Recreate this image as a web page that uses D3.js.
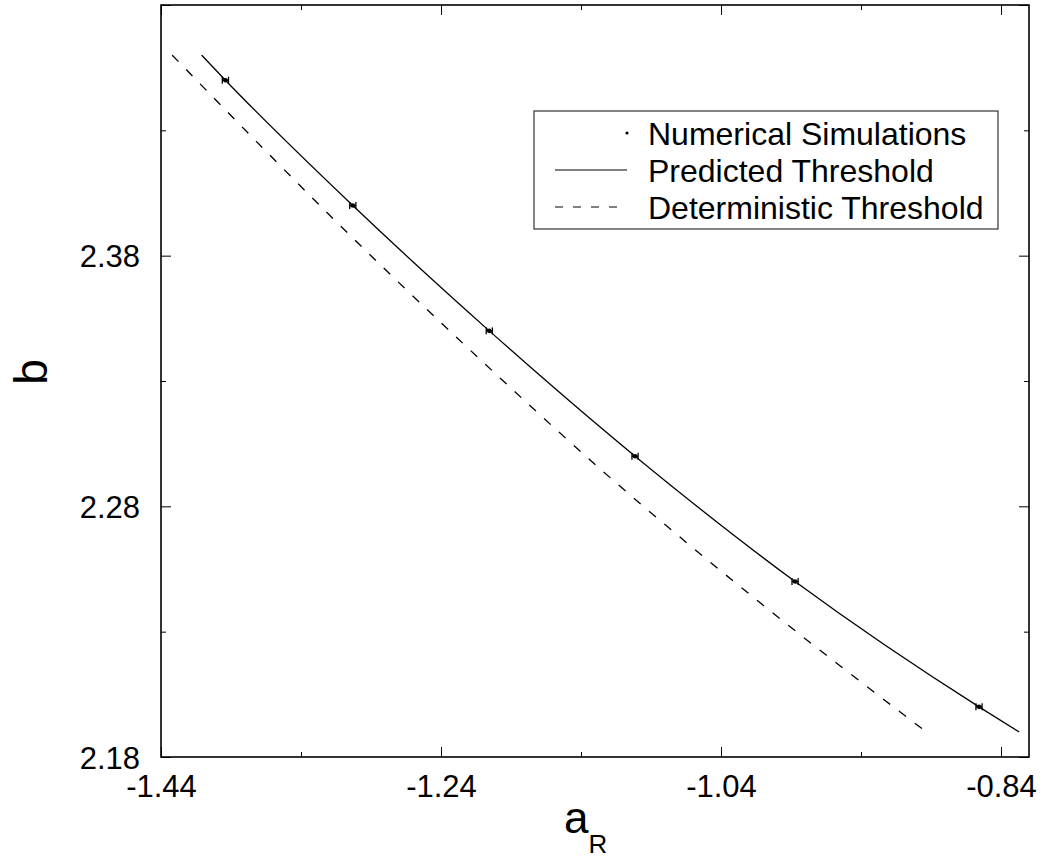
<!DOCTYPE html>
<html>
<head>
<meta charset="utf-8">
<script src="https://cdn.jsdelivr.net/npm/d3@7"></script>
<style>
  body { margin: 0; background: #fff; }
  svg text { font-family: "Liberation Sans", Arial, Helvetica, sans-serif; fill: #000; }
</style>
</head>
<body>
<svg id="chart" width="1045" height="859"></svg>
<script>
// numerical simulations (threshold b for each a_R) with error in a_R
var simA = [-1.394, -1.303, -1.2055, -1.1014, -0.9871, -0.8557];
var simB = [2.45, 2.40, 2.35, 2.30, 2.25, 2.20];
var simErr = [0.0022, 0.0022, 0.0022, 0.0022, 0.0022, 0.0022];

// predicted threshold curve
var predA = [-1.411, -1.394, -1.303, -1.2055, -1.1014, -0.9871, -0.8557, -0.827];
var predB = [2.460, 2.450, 2.400, 2.350, 2.300, 2.250, 2.200, 2.190];

// deterministic threshold curve
var detA = [-1.432, -1.367, -1.3245, -1.213, -1.124, -1.012, -0.891];
var detB = [2.460, 2.4228, 2.3989, 2.3391, 2.2938, 2.2415, 2.189];

var xMajor = [-1.44, -1.24, -1.04, -0.84];
var xMinor = [-1.34, -1.14, -0.94];
var yMajor = [2.18, 2.28, 2.38, 2.48];
var yMinor = [2.23, 2.33, 2.43];
var yLabels = ["2.18", "2.28", "2.38"];

var legendNames = ["Numerical Simulations", "Predicted Threshold", "Deterministic Threshold"];

var svg = d3.select("#chart");
var margin = {left: 161, top: 5};
var width = 1029 - 161, height = 757 - 5;

var x = d3.scaleLinear().domain([-1.44, -0.82]).range([0, width]);
var y = d3.scaleLinear().domain([2.18, 2.48]).range([height, 0]);

var g = svg.append("g").attr("transform", "translate(" + margin.left + "," + margin.top + ")");

//-------------------------------
// axes: ticks point inward on all four sides
function styleAxis(sel) {
  sel.select(".domain").remove();
  sel.selectAll(".tick line").attr("stroke", "#000").attr("stroke-width", 1);
}

// plain hyphen for negatives, like the original
function fmt(d) { return d.toFixed(2); }

g.append("g").attr("transform", "translate(0," + height + ")")
  .call(d3.axisBottom(x).tickValues(xMajor).tickSize(-10).tickPadding(18).tickFormat(fmt))
  .call(styleAxis)
  .selectAll("text").attr("font-size", 31).attr("dy", "0.71em");

g.append("g").attr("transform", "translate(0," + height + ")")
  .call(d3.axisBottom(x).tickValues(xMinor).tickSize(-5).tickFormat(""))
  .call(styleAxis);

g.append("g")
  .call(d3.axisTop(x).tickValues(xMajor).tickSize(-10).tickFormat(""))
  .call(styleAxis);
g.append("g")
  .call(d3.axisTop(x).tickValues(xMinor).tickSize(-5).tickFormat(""))
  .call(styleAxis);

g.append("g")
  .call(d3.axisLeft(y).tickValues(yMajor).tickSize(-10).tickPadding(21)
    .tickFormat(function(d) { return yLabels.indexOf(fmt(d)) >= 0 ? fmt(d) : ""; }))
  .call(styleAxis)
  .selectAll("text").attr("font-size", 31).attr("dy", "0.36em");

g.append("g")
  .call(d3.axisLeft(y).tickValues(yMinor).tickSize(-5).tickFormat(""))
  .call(styleAxis);

g.append("g").attr("transform", "translate(" + width + ",0)")
  .call(d3.axisRight(y).tickValues(yMajor).tickSize(-10).tickFormat(""))
  .call(styleAxis);
g.append("g").attr("transform", "translate(" + width + ",0)")
  .call(d3.axisRight(y).tickValues(yMinor).tickSize(-5).tickFormat(""))
  .call(styleAxis);

// frame
g.append("rect")
  .attr("width", width).attr("height", height)
  .attr("fill", "none").attr("stroke", "#000").attr("stroke-width", 1.6);

//-------------------------------
// curves
var line = d3.line()
  .x(function(d) { return x(d[0]); })
  .y(function(d) { return y(d[1]); })
  .curve(d3.curveMonotoneX);

g.append("path")
  .datum(d3.zip(detA, detB))
  .attr("d", line)
  .attr("fill", "none").attr("stroke", "#000").attr("stroke-width", 1.3)
  .attr("stroke-dasharray", "9,11");

g.append("path")
  .datum(d3.zip(predA, predB))
  .attr("d", line)
  .attr("fill", "none").attr("stroke", "#000").attr("stroke-width", 1.3);

// simulation points with horizontal error bars
var sims = simA.map(function(a, i) { return {a: a, b: simB[i], e: simErr[i]}; });
var pts = g.selectAll(".sim").data(sims).enter().append("g").attr("class", "sim");

pts.append("line")
  .attr("x1", function(d) { return x(d.a - d.e); })
  .attr("x2", function(d) { return x(d.a + d.e); })
  .attr("y1", function(d) { return y(d.b); })
  .attr("y2", function(d) { return y(d.b); })
  .attr("stroke", "#000").attr("stroke-width", 1.5);

[-1, 1].forEach(function(s) {
  pts.append("line")
    .attr("x1", function(d) { return x(d.a + s * d.e); })
    .attr("x2", function(d) { return x(d.a + s * d.e); })
    .attr("y1", function(d) { return y(d.b) - 3.5; })
    .attr("y2", function(d) { return y(d.b) + 3.5; })
    .attr("stroke", "#000").attr("stroke-width", 1.3);
});

pts.append("circle")
  .attr("cx", function(d) { return x(d.a); })
  .attr("cy", function(d) { return y(d.b); })
  .attr("r", 2.3).attr("fill", "#000");

//-------------------------------
// axis titles
var xt = svg.append("text").attr("x", 564).attr("y", 833).attr("font-size", 44);
xt.append("tspan").text("a");
xt.append("tspan").attr("font-size", 26).attr("dy", 20).text("R");

svg.append("text")
  .attr("transform", "translate(47,372) rotate(-90)")
  .attr("text-anchor", "middle")
  .attr("font-size", 46)
  .text("b");

//-------------------------------
// legend
var leg = svg.append("g");
leg.append("rect")
  .attr("x", 534).attr("y", 111).attr("width", 464).attr("height", 118)
  .attr("fill", "#fff").attr("stroke", "#333").attr("stroke-width", 1.2);

var rowY = [133, 170, 207];
legendNames.forEach(function(name, i) {
  leg.append("text")
    .attr("x", 648).attr("y", rowY[i] + 11.5)
    .attr("font-size", 32)
    .text(name);
});

leg.append("circle").attr("cx", 627).attr("cy", rowY[0]).attr("r", 1.6).attr("fill", "#000");
leg.append("line").attr("x1", 555).attr("x2", 627).attr("y1", rowY[1]).attr("y2", rowY[1])
  .attr("stroke", "#000").attr("stroke-width", 1.2);
leg.append("line").attr("x1", 555).attr("x2", 627).attr("y1", rowY[2]).attr("y2", rowY[2])
  .attr("stroke", "#000").attr("stroke-width", 1.2).attr("stroke-dasharray", "8,10");
</script>
</body>
</html>
